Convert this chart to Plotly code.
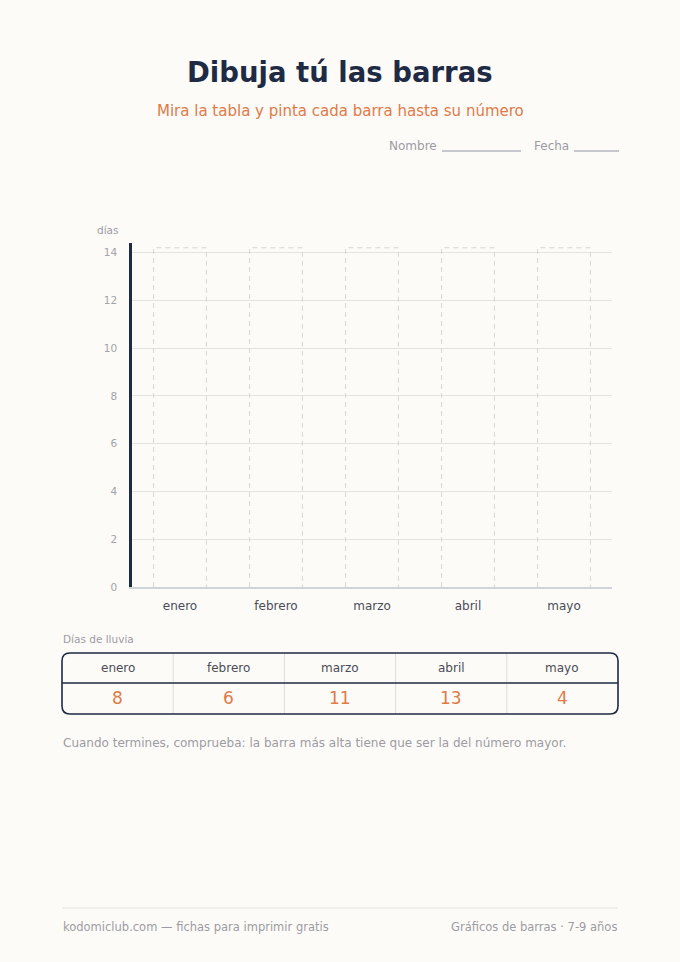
import plotly.graph_objects as go

# ---- data ----
months = ["enero", "febrero", "marzo", "abril", "mayo"]
rain_days = [8, 6, 11, 13, 4]
y_ticks = [0, 2, 4, 6, 8, 10, 12, 14]
title_text = "Dibuja tú las barras"
subtitle_text = "Mira la tabla y pinta cada barra hasta su número"
y_label = "días"
table_label = "Días de lluvia"
note_text = "Cuando termines, comprueba: la barra más alta tiene que ser la del número mayor."
footer_left = "kodomiclub.com — fichas para imprimir gratis"
footer_right = "Gráficos de barras · 7-9 años"

# ---- layout constants ----
W, H = 680, 962
L, R, T, B = 132, 68, 243, 375
PW, PH = W - L - R, H - T - B
Y_MAX = 14.4
BOX_TOP = 14.2
BOX_HALF = 0.275

FONT = "'DejaVu Sans', sans-serif"
NAVY = "#1f2a44"
ORANGE = "#e07a47"
GRAY = "#9c9ca3"
BG = "#fcfbf8"


def px(x):
    return (x - L) / PW


def py(y):
    return (H - B - y) / PH


fig = go.Figure()

# dashed placeholder outlines where the child draws each bar
for i, m in enumerate(months):
    fig.add_trace(go.Scatter(
        x=[i - BOX_HALF, i - BOX_HALF, i + BOX_HALF, i + BOX_HALF],
        y=[0, BOX_TOP, BOX_TOP, 0],
        mode="lines",
        line=dict(color="#d5d5d5", width=1, dash="5px,4px"),
        hoverinfo="skip", showlegend=False, name=m,
    ))

annotations = []
shapes = []


def text(t, x, y, size, color, anchor="center", weight="normal"):
    annotations.append(dict(text=t, x=px(x), y=py(y), xref="paper", yref="paper",
                            showarrow=False, xanchor=anchor, yanchor="middle",
                            font=dict(family=FONT, size=size, color=color, weight=weight)))


text(title_text, 340, 72, 27.5, NAVY, weight="bold")
text(subtitle_text, 340, 111, 15, ORANGE)
text("Nombre", 439, 146, 12, GRAY, "right")
text("Fecha", 571, 146, 12, GRAY, "right")
for x0, x1 in [(442, 521), (574, 619)]:
    shapes.append(dict(type="line", xref="paper", yref="paper", x0=px(x0), x1=px(x1),
                       y0=py(151), y1=py(151), line=dict(color="#8f93a0", width=1)))

text(y_label, 95, 230, 10.5, GRAY, "left")

# table
text(table_label, 61, 639, 10.5, GRAY, "left")
TX0, TX1, TY0, TY1, TYM = 62, 618, 653, 714, 683
rad = 8


def rounded_path(x0, y0, x1, y1, r):
    rx, ry = r / PW, r / PH
    a, b, c, d = px(x0), px(x1), py(y0), py(y1)  # c top, d bottom (paper)
    return (f"M {a+rx},{c} L {b-rx},{c} Q {b},{c} {b},{c-ry} "
            f"L {b},{d+ry} Q {b},{d} {b-rx},{d} L {a+rx},{d} "
            f"Q {a},{d} {a},{d+ry} L {a},{c-ry} Q {a},{c} {a+rx},{c} Z")


n = len(months)
cw = (TX1 - TX0) / n
for k in range(1, n):
    xs = TX0 + k * cw
    shapes.append(dict(type="line", xref="paper", yref="paper", x0=px(xs), x1=px(xs),
                       y0=py(TY0), y1=py(TY1), line=dict(color="#dcdcdc", width=1)))
shapes.append(dict(type="line", xref="paper", yref="paper", x0=px(TX0), x1=px(TX1),
                   y0=py(TYM), y1=py(TYM), line=dict(color=NAVY, width=1.5)))
shapes.append(dict(type="path", xref="paper", yref="paper",
                   path=rounded_path(TX0, TY0, TX1, TY1, rad),
                   line=dict(color=NAVY, width=1.6)))
for k, (m, v) in enumerate(zip(months, rain_days)):
    cx = TX0 + (k + 0.5) * cw
    text(m, cx, 668, 12, "#4b4b57")
    text(str(v), cx, 698, 17, ORANGE)

text(note_text, 61, 743, 12, GRAY, "left")

# footer
shapes.append(dict(type="line", xref="paper", yref="paper", x0=px(62), x1=px(618),
                   y0=py(908), y1=py(908), line=dict(color="#e2e2e2", width=1)))
text(footer_left, 61, 927, 11.5, GRAY, "left")
text(footer_right, 619, 927, 11.5, GRAY, "right")

fig.update_layout(
    width=W, height=H, autosize=False,
    margin=dict(l=L, r=R, t=T, b=B, pad=0),
    paper_bgcolor=BG, plot_bgcolor=BG,
    showlegend=False,
    annotations=annotations, shapes=shapes,
    font=dict(family=FONT),
    xaxis=dict(range=[-0.5, 4.5], tickvals=list(range(len(months))), ticktext=months,
               showgrid=False, zeroline=False, showline=True, linecolor="#cfd3da", linewidth=2,
               ticks="", ticklabelstandoff=7, fixedrange=True,
               tickfont=dict(family=FONT, size=12, color="#4b4b57")),
    yaxis=dict(range=[0, Y_MAX], tickvals=y_ticks, showgrid=True, gridcolor="#e3e3e3", gridwidth=1,
               zeroline=False, showline=True, linecolor=NAVY, linewidth=2.5,
               ticks="", ticklabelstandoff=10, fixedrange=True,
               tickfont=dict(family=FONT, size=10.5, color="#a3a3a8")),
)

fig.write_html("out.html", config={"displayModeBar": False},
               post_script="document.body.style.margin='0';document.body.style.background='#fcfbf8';")
